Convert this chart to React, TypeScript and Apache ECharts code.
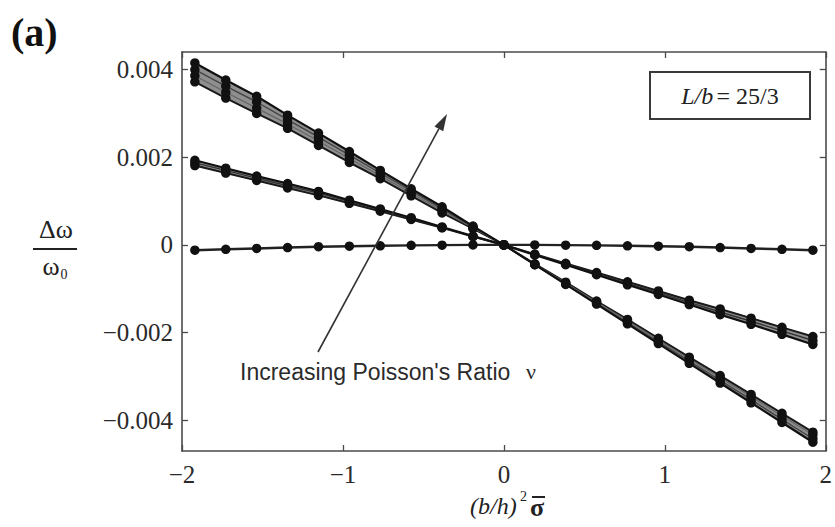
import React, { useEffect, useRef } from "react";
import * as echarts from "echarts";

// x positions of the computed points ((b/h)^2 * sigma)
const xs = [-1.92, -1.728, -1.536, -1.344, -1.152, -0.96, -0.768, -0.576, -0.384, -0.192, 0, 0.192, 0.384, 0.576, 0.768, 0.96, 1.152, 1.344, 1.536, 1.728, 1.92];

// steepest family (highest Poisson's ratio), several curves forming a band
const steepLow = [0.00372, 0.00335, 0.003, 0.00266, 0.00227, 0.00188, 0.00151, 0.00112, 0.00073, 0.00037, 0, -0.00043, -0.00085, -0.00128, -0.0017, -0.00213, -0.00256, -0.00298, -0.00341, -0.00384, -0.00427];
const steepMidA = [0.00386, 0.00348, 0.00312, 0.00276, 0.00237, 0.00197, 0.00158, 0.00118, 0.00078, 0.00039, 0, -0.00044, -0.00087, -0.0013, -0.00173, -0.00217, -0.0026, -0.00303, -0.00346, -0.0039, -0.00433];
const steepMidB = [0.004, 0.00362, 0.00326, 0.00286, 0.00246, 0.00205, 0.00164, 0.00123, 0.00082, 0.00041, 0, -0.00045, -0.00089, -0.00133, -0.00177, -0.00221, -0.00265, -0.00309, -0.00353, -0.00398, -0.00442];
const steepHigh = [0.00415, 0.00376, 0.00339, 0.00296, 0.00255, 0.00213, 0.0017, 0.00128, 0.00087, 0.00043, 0, -0.00045, -0.0009, -0.00135, -0.0018, -0.00225, -0.0027, -0.00315, -0.0036, -0.00405, -0.0045];

// middle family
const medLow = [0.00181, 0.00164, 0.00147, 0.0013, 0.00113, 0.00095, 0.00077, 0.00058, 0.00039, 0.00019, 0, -0.00021, -0.00042, -0.00063, -0.00084, -0.00105, -0.00126, -0.00146, -0.00167, -0.00188, -0.00209];
const medMid = [0.00187, 0.0017, 0.00152, 0.00135, 0.00118, 0.00099, 0.0008, 0.0006, 0.0004, 0.0002, 0, -0.00022, -0.00044, -0.00066, -0.00088, -0.00109, -0.00131, -0.00153, -0.00174, -0.00196, -0.00218];
const medHigh = [0.00193, 0.00175, 0.00157, 0.0014, 0.00122, 0.00102, 0.00082, 0.00062, 0.00041, 0.0002, 0, -0.00023, -0.00045, -0.00068, -0.00091, -0.00113, -0.00136, -0.00159, -0.00181, -0.00204, -0.00227];

// nearly flat family (lowest Poisson's ratio)
const flat = [-0.00012, -0.0001, -0.00008, -0.00006, -0.00004, -0.00003, -0.00002, -0.00001, -0.000005, 0, 0, 0, -0.000005, -0.00001, -0.00002, -0.00003, -0.00004, -0.00006, -0.00008, -0.0001, -0.00012];

const yTicks = [-0.004, -0.002, 0, 0.002, 0.004];

const SERIF = "'Liberation Serif', 'DejaVu Serif', serif";
const SANS = "'Liberation Sans', Arial, sans-serif";

const minus = (s: string) => s.replace("-", "\u2212");

function pairs(vals: number[]) {
  return xs.map((x, i) => [x, vals[i]]);
}

function bandSeries(lines: number[][]) {
  const lo = xs.map((_, i) => Math.min(...lines.map((l) => l[i])));
  const hi = xs.map((_, i) => Math.max(...lines.map((l) => l[i])));
  return {
    type: "custom",
    coordinateSystem: "cartesian2d",
    data: [[0, 0]],
    encode: { x: 0, y: 1 },
    silent: true,
    z: 1,
    renderItem: (_params: any, api: any) => {
      const top = xs.map((x, i) => api.coord([x, hi[i]]));
      const bot = xs.map((x, i) => api.coord([x, lo[i]])).reverse();
      return {
        type: "polygon",
        shape: { points: [...top, ...bot] },
        style: { fill: "#8f8f8f", stroke: "#8f8f8f", lineWidth: 1 },
      };
    },
  };
}

function curve(vals: number[], color = "#3a3a3a", width = 1.4) {
  return {
    type: "line",
    data: pairs(vals),
    symbol: "circle",
    symbolSize: 9.5,
    itemStyle: { color: "#111" },
    lineStyle: { color, width },
    z: 3,
  };
}

export default function App() {
  const ref = useRef<HTMLDivElement>(null);
  useEffect(() => {
    document.body.style.margin = "0";
    const chart = echarts.init(ref.current!, null, { renderer: "svg" });
    const axisLine = { show: true, onZero: false, lineStyle: { color: "#4a4a4a", width: 1.6 } };
    const tick = { show: true, inside: true, length: 6, lineStyle: { color: "#4a4a4a", width: 1.3 } };
    const arrowTip = [447, 114];
    const ux = 0.481, uy = -0.877;
    const hl = 17, hw = 5;
    const bx = arrowTip[0] - hl * ux, by = arrowTip[1] - hl * uy;
    chart.setOption({
      animation: false,
      backgroundColor: "#fff",
      grid: { left: 182, top: 52, right: 7, bottom: 76, containLabel: false },
      xAxis: [
        {
          type: "value",
          position: "bottom",
          min: -2,
          max: 2,
          interval: 1,
          axisLine,
          axisTick: tick,
          splitLine: { show: false },
          axisLabel: {
            margin: 11,
            fontFamily: SERIF,
            fontSize: 25,
            color: "#2a2a2a",
            formatter: (v: number) => minus(String(v)),
          },
        },
        {
          type: "value",
          position: "top",
          min: -2,
          max: 2,
          interval: 1,
          axisLine,
          axisTick: tick,
          splitLine: { show: false },
          axisLabel: { show: false },
        },
      ],
      yAxis: [
        {
          type: "value",
          position: "left",
          min: -0.0047,
          max: 0.0044,
          axisLine,
          axisTick: { ...tick, customValues: yTicks },
          splitLine: { show: false },
          axisLabel: {
            customValues: yTicks,
            margin: 9,
            fontFamily: SERIF,
            fontSize: 25,
            color: "#2a2a2a",
            formatter: (v: number) => (v === 0 ? "0" : minus(v.toFixed(3))),
          },
        },
        {
          type: "value",
          position: "right",
          min: -0.0047,
          max: 0.0044,
          axisLine,
          axisTick: { ...tick, customValues: yTicks },
          splitLine: { show: false },
          axisLabel: { show: false },
        },
      ],
      series: [
        bandSeries([steepLow, steepMidA, steepMidB, steepHigh]),
        bandSeries([medLow, medMid, medHigh]),
        curve(steepLow, "#1a1a1a", 2),
        curve(steepMidA, "#666", 1.2),
        curve(steepMidB, "#444", 1.4),
        curve(steepHigh, "#111", 2.2),
        curve(medLow, "#1a1a1a", 2),
        curve(medMid, "#333", 1.4),
        curve(medHigh, "#111", 2.2),
        curve(flat, "#222", 2.4),
      ],
      graphic: [
        {
          type: "text",
          left: 11,
          top: 12,
          style: { text: "(a)", font: `bold 40px ${SERIF}`, fill: "#111" },
        },
        // legend box
        {
          type: "rect",
          shape: { x: 650, y: 72, width: 160, height: 47 },
          style: { fill: "#fff", stroke: "#3a3a3a", lineWidth: 2 },
          z: 10,
        },
        {
          type: "text",
          z: 11,
          style: {
            x: 730,
            y: 96,
            text: "{i|L/b} {n|= 25/3}",
            align: "center",
            verticalAlign: "middle",
            textAlign: "center",
            textVerticalAlign: "middle",
            rich: {
              i: { fontFamily: SERIF, fontStyle: "italic", fontSize: 24, fill: "#222", color: "#222" },
              n: { fontFamily: SERIF, fontSize: 24, fill: "#222", color: "#222" },
            },
          },
        },
        // y label
        {
          type: "text",
          style: {
            x: 56,
            y: 229,
            text: "\u0394\u03c9",
            font: `26px ${SERIF}`,
            fill: "#222",
            align: "center",
            verticalAlign: "middle",
            textAlign: "center",
            textVerticalAlign: "middle",
          },
        },
        {
          type: "line",
          shape: { x1: 33, y1: 249, x2: 77, y2: 249 },
          style: { stroke: "#222", lineWidth: 2 },
        },
        {
          type: "text",
          style: {
            x: 51,
            y: 266,
            text: "\u03c9",
            font: `26px ${SERIF}`,
            fill: "#222",
            align: "center",
            verticalAlign: "middle",
            textAlign: "center",
            textVerticalAlign: "middle",
          },
        },
        {
          type: "text",
          style: {
            x: 64,
            y: 274,
            text: "0",
            font: `14px ${SERIF}`,
            fill: "#222",
            align: "center",
            verticalAlign: "middle",
            textAlign: "center",
            textVerticalAlign: "middle",
          },
        },
        // x label
        {
          type: "text",
          style: {
            x: 470,
            y: 506,
            text: "(b/h)",
            font: `italic 24px ${SERIF}`,
            fill: "#222",
            align: "left",
            verticalAlign: "middle",
            textAlign: "left",
            textVerticalAlign: "middle",
          },
        },
        {
          type: "text",
          style: {
            x: 520,
            y: 496,
            text: "2",
            font: `14px ${SERIF}`,
            fill: "#222",
            align: "left",
            verticalAlign: "middle",
            textAlign: "left",
            textVerticalAlign: "middle",
          },
        },
        {
          type: "text",
          style: {
            x: 530,
            y: 507,
            text: "\u03c3",
            font: `bold 26px ${SERIF}`,
            fill: "#222",
            align: "left",
            verticalAlign: "middle",
            textAlign: "left",
            textVerticalAlign: "middle",
          },
        },
        {
          type: "line",
          shape: { x1: 532, y1: 497, x2: 545, y2: 497 },
          style: { stroke: "#222", lineWidth: 2 },
        },
        // arrow
        {
          type: "line",
          shape: { x1: 318, y1: 352, x2: bx, y2: by },
          style: { stroke: "#333", lineWidth: 1.6 },
          z: 5,
        },
        {
          type: "polygon",
          shape: {
            points: [
              arrowTip,
              [bx + hw * 0.877, by + hw * 0.481],
              [bx - hw * 0.877, by - hw * 0.481],
            ],
          },
          style: { fill: "#333" },
          z: 5,
        },
        {
          type: "text",
          style: {
            x: 240,
            y: 372,
            text: "Increasing Poisson's Ratio",
            font: `23px ${SANS}`,
            fill: "#2b2b2b",
            align: "left",
            verticalAlign: "middle",
            textAlign: "left",
            textVerticalAlign: "middle",
          },
          z: 5,
        },
        {
          type: "text",
          style: {
            x: 531,
            y: 371,
            text: "\u03bd",
            font: `22px ${SERIF}`,
            fill: "#2b2b2b",
            align: "center",
            verticalAlign: "middle",
            textAlign: "center",
            textVerticalAlign: "middle",
          },
          z: 5,
        },
      ],
    });
    return () => chart.dispose();
  }, []);
  return <div ref={ref} style={{ width: 835, height: 527 }} />;
}
